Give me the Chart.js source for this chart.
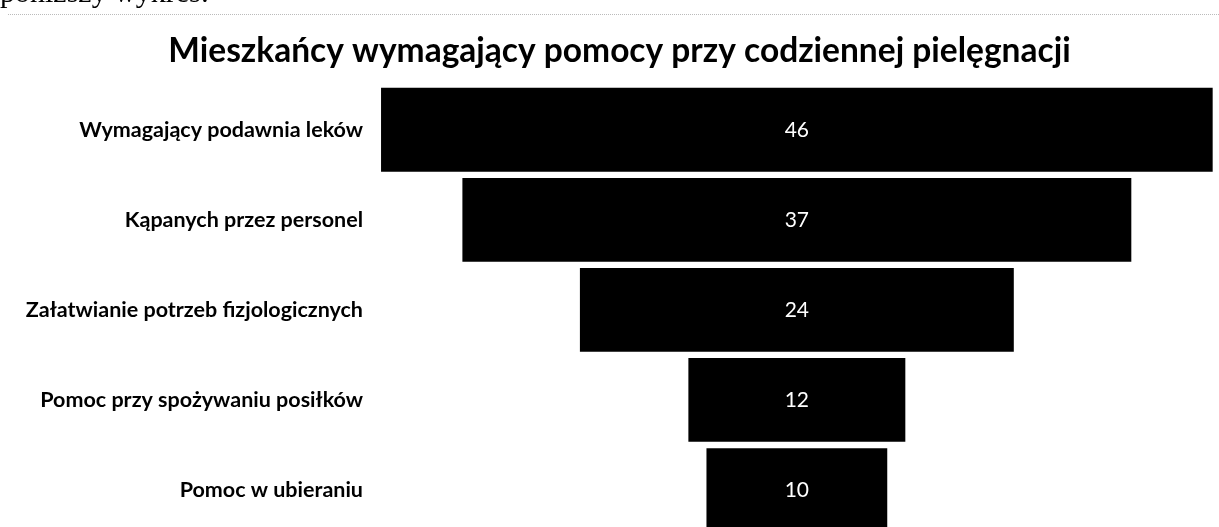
<!DOCTYPE html>
<html>
<head>
<meta charset="utf-8">
<script src="https://cdn.jsdelivr.net/npm/chart.js@4"></script>
<style>
    html, body { margin: 0; padding: 0; background: #fff; overflow: hidden; }
    #wrap { position: relative; width: 1219px; height: 557px; }
    #chart { display: block; }
    #doc-text {
        position: absolute; left: 0; top: -25px;
        font-family: "Liberation Serif", serif; font-size: 30px; color: #000;
        white-space: nowrap;
    }
    #doc-rule {
        position: absolute; left: 8px; right: 0; top: 14px;
        border-top: 1px dotted #bbb;
    }
</style>
</head>
<body>
<div id="wrap">
    <canvas id="chart" width="1219" height="557"></canvas>
    <div id="doc-text">poniższy wykres:</div>
    <div id="doc-rule"></div>
</div>
<script>
    "use strict";

    const title = 'Mieszkańcy wymagający pomocy przy codziennej pielęgnacji';
    const categories = [
        'Wymagający podawnia leków',
        'Kąpanych przez personel',
        'Załatwianie potrzeb fizjologicznych',
        'Pomoc przy spożywaniu posiłków',
        'Pomoc w ubieraniu'
    ];
    const values = [46, 37, 24, 12, 10];

    // funnel: every bar floats symmetrically around zero
    let ranges = values.map(v => [-v / 2, v / 2]);

    // white numbers in the middle of each bar
    const barValues = {
        id: 'barValues',
        afterDatasetsDraw(chart) {
            let ctx = chart.ctx;
            let meta = chart.getDatasetMeta(0);
            ctx.save();
            ctx.fillStyle = '#fff';
            ctx.font = '21px Lato';
            ctx.textAlign = 'center';
            ctx.textBaseline = 'middle';
            meta.data.forEach((bar, i) => {
                let p = bar.getProps(['x', 'y', 'base'], true);
                ctx.fillText(String(values[i]), (p.x + p.base) / 2, p.y);
            });
            ctx.restore();
        }
    };

    new Chart(document.getElementById('chart'), {
        type: 'bar',
        data: {
            labels: categories,
            datasets: [{
                data: ranges,
                backgroundColor: '#000',
                borderWidth: 0,
                barPercentage: 0.93,
                categoryPercentage: 1,
            }]
        },
        options: {
            indexAxis: 'y',
            responsive: false,
            animation: false,
            layout: {
                padding: {left: 20, right: 0, top: 0, bottom: 10.5},
            },
            plugins: {
                legend: {display: false},
                tooltip: {enabled: false},
                title: {
                    display: true,
                    text: title,
                    color: '#000',
                    font: {family: 'Lato', size: 33.5, weight: 'bold'},
                    padding: {top: 31, bottom: 13.5},
                },
            },
            scales: {
                x: {
                    display: false,
                    min: -23.5,
                    max: 23.35,
                },
                y: {
                    grid: {display: false, drawTicks: false},
                    border: {display: false},
                    ticks: {
                        color: '#000',
                        padding: 9,
                        font: {family: 'Lato', size: 21.5, weight: 'bold'},
                    },
                    afterFit(scale) {
                        scale.width = 352;
                    },
                },
            },
        },
        plugins: [barValues],
    });
</script>
</body>
</html>
